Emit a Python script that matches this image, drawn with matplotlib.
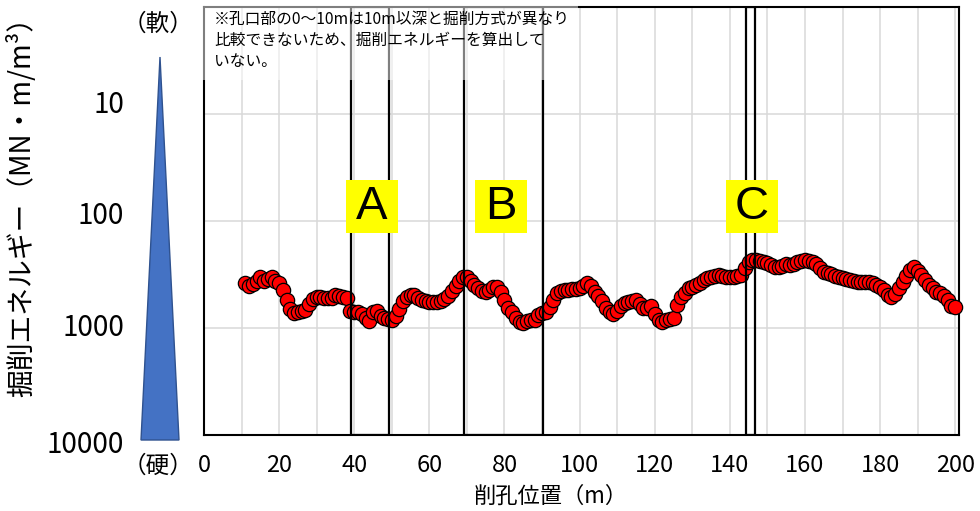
# <codecell>
# module imports
import matplotlib.pyplot as plt
from matplotlib.patches import Rectangle, Polygon
from matplotlib.ticker import NullLocator, MultipleLocator

plt.rcParams['font.family'] = ['Noto Sans CJK JP', 'DejaVu Sans']

# <codecell>
# data
depth = list(range(11, 201))
energy = [
    380, 405, 388, 364, 334, 364, 348, 334, 364, 380,   # 11-20
    442, 548, 664, 724, 709, 694, 679, 597, 536, 513,   # 21-30
    513, 524, 524, 524, 492, 502, 513, 524, 694, 709,   # 31-40
    709, 740, 806, 860, 709, 694, 772, 806, 824, 842,   # 41-50
    772, 664, 559, 513, 492, 492, 524, 548, 559, 572,   # 51-60
    572, 572, 559, 536, 502, 451, 405, 364, 334, 334,   # 61-70
    364, 396, 423, 451, 461, 442, 414, 414, 461, 548,   # 71-80
    650, 709, 806, 879, 898, 860, 842, 842, 756, 724,   # 81-90
    709, 636, 548, 471, 451, 442, 442, 432, 432, 423,   # 91-100
    405, 380, 405, 461, 502, 559, 650, 709, 740, 694,   # 101-110
    623, 584, 572, 559, 548, 597, 650, 650, 623, 740,   # 111-120
    842, 879, 842, 824, 806, 610, 513, 471, 423, 414,   # 121-130
    396, 380, 356, 341, 334, 327, 320, 327, 334, 334,   # 131-140
    334, 327, 320, 275, 242, 232, 232, 237, 242, 247,   # 141-150
    258, 269, 269, 263, 252, 258, 252, 242, 237, 232,   # 151-160
    237, 242, 252, 275, 300, 306, 313, 327, 334, 341,   # 161-170
    348, 356, 364, 372, 372, 372, 372, 380, 396, 414,   # 171-180
    442, 492, 513, 481, 423, 372, 327, 287, 269, 293,   # 181-190
    320, 356, 396, 423, 461, 471, 502, 548, 623, 636,   # 191-200
]

y_tick_labels = ['10', '100', '1000', '10000']
region_names = ['A', 'B', 'C']
region_start = [39.1, 69.3, 144.2]
region_end = [49.3, 90.2, 146.7]
label_x = [44.7, 79.1, 145.9]

note = ('※孔口部の0～10mは10m以深と掘削方式が異なり\n'
        '比較できないため、掘削エネルギーを算出して\n'
        'いない。')

# <codecell>
# figure and axes (pixel layout of the original)
W, H = 980, 511
fig = plt.figure(figsize=(W / 100, H / 100), dpi=100)
ax = fig.add_axes([204 / W, 1 - 435 / H, 755 / W, 428 / H])


def fx(x):
    return x / W


def fy(y):
    return 1 - y / H


ax.set_yscale('log')
ax.set_ylim(10000, 1)
ax.set_xlim(0, 201)
ax.xaxis.set_major_locator(MultipleLocator(20))
ax.xaxis.set_minor_locator(MultipleLocator(10))
ax.set_yticks([10, 100, 1000])
ax.yaxis.set_minor_locator(NullLocator())
ax.set_yticklabels([])
ax.tick_params(axis='both', which='both', length=0)
ax.tick_params(axis='x', labelsize=17, pad=14)
ax.grid(True, axis='x', which='both', color='#d9d9d9', lw=1.1)
ax.grid(True, axis='y', which='major', color='#d9d9d9', lw=1.1)
ax.set_axisbelow(True)
for s in ax.spines.values():
    s.set_color('black')
    s.set_linewidth(1.5)

# <codecell>
# data points
ax.plot(depth, energy, 'o', ms=10.3, mfc='#ff0000', mec='black', mew=0.9,
        zorder=3, clip_on=False)

# regions A, B, C
for name, s, e, lx in zip(region_names, region_start, region_end, label_x):
    ax.add_patch(Rectangle((s, 1), e - s, 9999, fill=False, ec='black',
                           lw=1.6, zorder=4))
    ax.add_patch(Rectangle((lx - 7.0, 41.4), 14.0, 129.4 - 41.4,
                           fc='#ffff00', ec='none', zorder=5))
    ax.text(lx, 74, name, fontsize=34, family='Liberation Sans',
            ha='center', va='center', zorder=6)

# note box (semi transparent)
ax.add_patch(Rectangle((fx(200), fy(80)), fx(378), 76 / H,
                       transform=fig.transFigure, fc='white', ec='none',
                       alpha=0.5, zorder=7, clip_on=False))
fig.text(fx(214), fy(11), note, fontsize=11.3, va='top', ha='left',
         linespacing=1.3, zorder=8)

# <codecell>
# left side: hardness triangle and labels
fig.patches.append(Polygon([(fx(141), fy(440)), (fx(179), fy(440)),
                            (fx(160), fy(57))], closed=True,
                           transform=fig.transFigure, fc='#4472c4',
                           ec='#2f528f', lw=1))
fig.text(fx(158), fy(24), '（軟）', fontsize=17, ha='center', va='center')
fig.text(fx(158), fy(466), '（硬）', fontsize=17, ha='center', va='center')
for lab, yp in zip(y_tick_labels, [105, 216, 328, 445]):
    fig.text(fx(124), fy(yp), lab, fontsize=20, ha='right', va='center')

fig.text(fx(22), fy(200), '掘削エネルギー（MN・m/m³）', fontsize=20,
         rotation=90, ha='center', va='center')
fig.text(fx(551), fy(496), '削孔位置（m）', fontsize=16,
         ha='center', va='center')

plt.savefig('out.png', dpi=100)
